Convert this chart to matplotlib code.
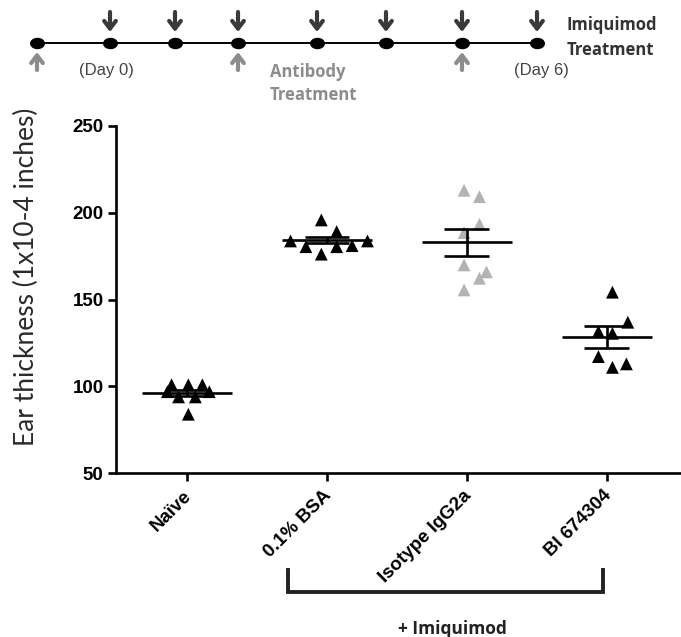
import matplotlib
matplotlib.use("Agg")
import matplotlib.pyplot as plt
from matplotlib.path import Path
from matplotlib.transforms import Affine2D, ScaledTranslation
import numpy as np

# ---------------- data ----------------
categories = ["Naïve", "0.1% BSA", "Isotype IgG2a", "BI 674304"]

naive_vals = [101, 101, 101, 97, 97, 94, 94, 84]
naive_jit = [-0.11, 0.01, 0.11, -0.14, 0.16, -0.06, 0.06, 0.01]

bsa_vals = [195.9, 189.2, 183.8, 183.8, 180.5, 180.5, 181.1, 176.2]
bsa_jit = [-0.04, 0.07, -0.26, 0.29, -0.15, 0.07, 0.18, -0.04]

iso_vals = [213.0, 209.3, 193.4, 188.6, 170.0, 162.3, 166.0, 155.6]
iso_jit = [-0.02, 0.09, 0.09, -0.02, -0.02, 0.09, 0.14, -0.02]

bi_vals = [154.3, 137.0, 131.6, 130.6, 117.2, 111.0, 113.0]
bi_jit = [0.04, 0.15, -0.06, 0.04, -0.06, 0.04, 0.14]

group_vals = [naive_vals, bsa_vals, iso_vals, bi_vals]
group_jit = [naive_jit, bsa_jit, iso_jit, bi_jit]
group_colors = ["black", "black", "#b3b3b3", "black"]

means = [96.4, 184.2, 183.1, 128.6]
sems = [1.6, 1.7, 7.7, 6.2]

yticks = [50, 100, 150, 200, 250]

# header timeline
timeline_pos = [37, 110, 175, 238, 317, 386, 462, 537]
imiquimod_idx = [1, 2, 3, 4, 5, 6, 7]
antibody_idx = [0, 3, 6]

# ---------------- figure ----------------
W, H = 681, 637
fig = plt.figure(figsize=(W / 100, H / 100), dpi=100)

tick_font = dict(family="Liberation Sans", weight="bold", size=13.5)

ax = fig.add_axes([116 / W, 1 - 473.3 / H, (W - 116) / W, (473.3 - 126) / H])
ax.set_xlim(-0.507, 3.53)
ax.set_ylim(50, 250)

for i, (vals, jit, col) in enumerate(zip(group_vals, group_jit, group_colors)):
    xs = [i + j for j in jit]
    ax.scatter(xs, vals, marker="^", s=85, color=col, edgecolors="none", zorder=2)
    m, s = means[i], sems[i]
    ax.hlines(m, i - 0.32, i + 0.32, color="black", lw=1.9, zorder=3)
    ax.hlines([m - s, m + s], i - 0.16, i + 0.16, color="black", lw=1.9, zorder=3)
    ax.vlines(i, m - s, m + s, color="black", lw=1.9, zorder=3)

for sp in ["top", "right"]:
    ax.spines[sp].set_visible(False)
for sp in ["left", "bottom"]:
    ax.spines[sp].set_linewidth(1.9)

ax.set_yticks(yticks)
ax.set_yticklabels([str(t) for t in yticks], fontdict=tick_font)
ax.set_xticks(range(len(categories)))
ax.set_xticklabels(categories, fontdict=tick_font, rotation=45, ha="right",
                   va="top", rotation_mode="anchor")
ax.tick_params(axis="both", direction="out", length=6, width=1.9, colors="black")
ax.tick_params(axis="y", pad=3)
ax.tick_params(axis="x", pad=4)
shift = ScaledTranslation(-4 / 100, 0, fig.dpi_scale_trans)
for lbl in ax.get_xticklabels():
    lbl.set_transform(lbl.get_transform() + shift)

ax.set_ylabel("Ear thickness (1x10-4 inches)", family="Lato", size=19, color="#2a2a2a")
ax.yaxis.set_label_coords(-0.137, 0.567)

# bracket "+ Imiquimod"
tr = ax.get_xaxis_transform()
bx0, bx1 = 0.72, 2.97
by_top, by_bot = -0.278, -0.342
ax.plot([bx0, bx0, bx1, bx1], [by_top, by_bot, by_bot, by_top], transform=tr,
        color="#222222", lw=2.8, clip_on=False, solid_joinstyle="miter")
ax.text(1.90, -0.448, "+ Imiquimod", transform=tr, ha="center", va="center",
        family="Open Sans", weight="bold", size=12.5, color="#222222")

# ---------------- header timeline ----------------
hx = fig.add_axes([0, 1 - 110 / H, 1, 110 / H])
hx.set_xlim(0, W)
hx.set_ylim(110, 0)
hx.axis("off")

ellipse = Path.unit_circle().transformed(Affine2D().scale(1.35, 1.0))

line_y = 43
hx.plot([timeline_pos[0], timeline_pos[-1]], [line_y, line_y], color="black", lw=1.4, zorder=1)
hx.scatter(timeline_pos, [line_y] * len(timeline_pos), marker=ellipse, s=95, color="black",
           zorder=3)

arrow_style = "->,head_length=0.55,head_width=0.42"
for i in imiquimod_idx:
    x = timeline_pos[i]
    hx.annotate("", xy=(x, 32), xytext=(x, 12),
                arrowprops=dict(arrowstyle=arrow_style, lw=3.0, color="#3a3a3a",
                                shrinkA=0, shrinkB=0))
for i in antibody_idx:
    x = timeline_pos[i]
    hx.annotate("", xy=(x, 52), xytext=(x, 70),
                arrowprops=dict(arrowstyle=arrow_style, lw=3.0, color="#8c8c8c",
                                shrinkA=0, shrinkB=0))

hx.text(567, 25, "Imiquimod", ha="left", va="center", family="Open Sans",
        weight="bold", size=12, color="#333333")
hx.text(567, 50, "Treatment", ha="left", va="center", family="Open Sans",
        weight="bold", size=12, color="#333333")
hx.text(270, 72, "Antibody", ha="left", va="center", family="Open Sans",
        weight="bold", size=12, color="#8c8c8c")
hx.text(270, 95, "Treatment", ha="left", va="center", family="Open Sans",
        weight="bold", size=12, color="#8c8c8c")
hx.text(106, 70, "(Day 0)", ha="center", va="center", family="Liberation Sans",
        size=12, color="#444444")
hx.text(541, 70, "(Day 6)", ha="center", va="center", family="Liberation Sans",
        size=12, color="#444444")

fig.savefig("out.png", dpi=100, facecolor="white")
